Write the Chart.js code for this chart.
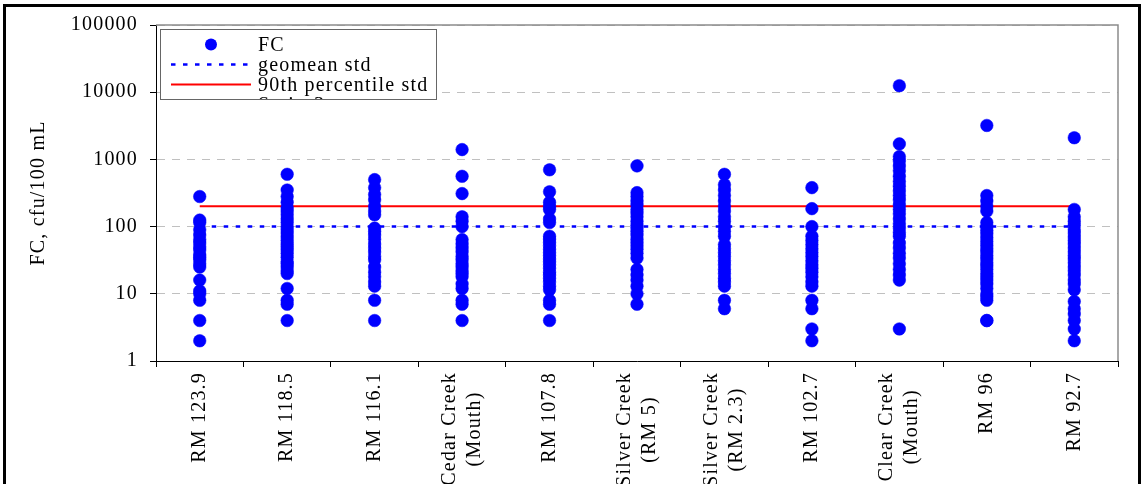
<!DOCTYPE html>
<html>
<head>
<meta charset="utf-8">
<script src="https://cdn.jsdelivr.net/npm/chart.js@4.4.1/dist/chart.umd.min.js"></script>
<style>
  html, body { margin: 0; padding: 0; overflow: hidden; background: #fff; }
  #frame { position: absolute; left: 3px; top: 4px; width: 1132px; height: 600px; border: 3px solid #000; border-bottom: none; }
  #wrap { position: absolute; left: 0; top: 0; width: 1143px; height: 560px; }
</style>
</head>
<body>
<div id="frame"></div>
<div id="wrap"><canvas id="fcChart"></canvas></div>
<script>
// sampling sites, upstream to downstream
const sites = [
  ['RM 123.9'], ['RM 118.5'], ['RM 116.1'], ['Cedar Creek', '(Mouth)'], ['RM 107.8'],
  ['Silver Creek', '(RM 5)'], ['Silver Creek', '(RM 2.3)'], ['RM 102.7'],
  ['Clear Creek', '(Mouth)'], ['RM 96'], ['RM 92.7']
];

// fecal coliform results, cfu/100 mL
const rm1239 = [280, 125, 115, 90, 75, 64, 57, 50, 45, 38, 35, 32, 28, 25, 16, 11, 10, 8, 4, 2];
const rm1185 = [600, 350, 280, 230, 190, 170, 150, 130, 115, 100, 90, 80, 70, 62, 55, 50, 45, 40, 35, 30, 28, 25, 22, 20, 12, 8, 7, 4];
const rm1161 = [500, 380, 300, 250, 200, 170, 150, 95, 85, 75, 65, 55, 48, 42, 36, 32, 25, 21, 18, 15, 13, 8, 4];
const cedarMouth = [1400, 560, 310, 140, 120, 100, 64, 55, 48, 42, 36, 32, 28, 25, 22, 20, 18, 14, 12, 8, 7, 4];
const rm1078 = [700, 330, 230, 200, 180, 130, 115, 72, 65, 58, 52, 46, 41, 37, 33, 30, 27, 24, 21, 19, 17, 15, 13, 11.5, 8, 7, 4];
const silverRm5 = [800, 320, 280, 240, 210, 180, 160, 140, 120, 105, 95, 85, 75, 65, 58, 52, 46, 40, 34, 23, 19, 16, 13, 10, 7];
const silverRm23 = [600, 420, 350, 290, 240, 200, 170, 140, 120, 100, 85, 72, 54, 47, 41, 36, 31, 27, 23, 20, 17, 15, 13, 8, 6];
const rm1027 = [380, 185, 100, 72, 62, 54, 47, 41, 36, 31, 27, 24, 21, 18, 15, 13, 8, 6, 3, 2];
const clearMouth = [12500, 1700, 1100, 950, 800, 680, 560, 470, 400, 340, 290, 250, 210, 180, 155, 130, 110, 95, 82, 72, 57, 48, 40, 34, 28, 23, 19, 16, 3];
const rm96 = [3200, 290, 240, 200, 170, 115, 100, 88, 78, 68, 60, 53, 47, 42, 37, 33, 29, 26, 23, 20, 18, 16, 14, 12, 10, 9, 8, 4, 4];
const rm927 = [2100, 180, 140, 120, 105, 90, 80, 70, 62, 55, 48, 42, 37, 33, 29, 25, 22, 19, 16, 14, 11.5, 7.7, 6, 5, 4, 3, 2];

const fcBySite = [rm1239, rm1185, rm1161, cedarMouth, rm1078, silverRm5, silverRm23, rm1027, clearMouth, rm96, rm927];

// standards
const geomeanStd = 100;
const percentile90Std = 200;

const yTicks = [1, 10, 100, 1000, 10000, 100000];

const serif = '"Liberation Serif", "Times New Roman", serif';

// Times-style text in the original is set a little wide
const wideText = {
  id: 'wideText',
  beforeUpdate(chart) { chart.ctx.letterSpacing = '1.2px'; },
  beforeDraw(chart) { chart.ctx.letterSpacing = '1.2px'; }
};

// gray top/right frame around the plot
const plotFrame = {
  id: 'plotFrame',
  beforeDatasetsDraw(chart) {
    const {ctx, chartArea: a} = chart;
    ctx.save();
    ctx.strokeStyle = '#8c8c8c';
    ctx.lineWidth = 1.5;
    ctx.beginPath();
    ctx.moveTo(a.left, a.top);
    ctx.lineTo(a.right, a.top);
    ctx.lineTo(a.right, a.bottom);
    ctx.stroke();
    ctx.restore();
  }
};

// rotated, centred multi-line site names under each category
const siteLabels = {
  id: 'siteLabels',
  afterDraw(chart) {
    const {ctx, scales: {x}} = chart;
    ctx.save();
    ctx.font = '20px ' + serif;
    ctx.fillStyle = '#000';
    ctx.textAlign = 'center';
    ctx.textBaseline = 'middle';
    const top = x.top + 11;
    chart.data.labels.forEach((lab, i) => {
      const lines = [].concat(lab);
      const w = Math.max(...lines.map(l => ctx.measureText(l).width));
      ctx.save();
      ctx.translate(x.getPixelForValue(i), top + w / 2);
      ctx.rotate(-Math.PI / 2);
      lines.forEach((l, j) => ctx.fillText(l, 0, (j - (lines.length - 1) / 2) * 25));
      ctx.restore();
    });
    ctx.restore();
  }
};

// boxed legend in the upper-left corner of the plot
const legendBox = {
  id: 'legendBox',
  afterDraw(chart, args, opts) {
    const {ctx, chartArea} = chart;
    const x = chartArea.left + opts.x, y = chartArea.top + opts.y;
    ctx.save();
    ctx.fillStyle = '#fff';
    ctx.fillRect(x, y, opts.width, opts.height);
    ctx.beginPath();
    ctx.rect(x, y, opts.width, opts.height);
    ctx.clip();
    ctx.font = '20px ' + serif;
    ctx.textBaseline = 'alphabetic';
    chart.data.datasets.forEach((ds, i) => {
      const base = y + 21.5 + i * 20;
      const my = base - 6;
      if (ds.showLine === false) {
        ctx.fillStyle = ds.pointBackgroundColor;
        ctx.beginPath();
        ctx.arc(x + 51, my, 6, 0, Math.PI * 2);
        ctx.fill();
      } else if (ds.data.length) {
        ctx.strokeStyle = ds.borderColor;
        ctx.lineWidth = ds.borderWidth;
        ctx.setLineDash(ds.borderDash || []);
        ctx.beginPath();
        ctx.moveTo(x + 11, my);
        ctx.lineTo(x + 91, my);
        ctx.stroke();
        ctx.setLineDash([]);
      }
      ctx.fillStyle = '#000';
      ctx.fillText(ds.label, x + 98, base);
    });
    ctx.restore();
    ctx.save();
    ctx.strokeStyle = '#666';
    ctx.lineWidth = 1;
    ctx.strokeRect(x + 0.5, y + 0.5, opts.width, opts.height);
    ctx.restore();
  }
};

// x is the site's own label array, so the category scale finds it by reference
const fcPoints = fcBySite.flatMap((vals, i) => vals.map(v => ({x: sites[i], y: v})));

new Chart(document.getElementById('fcChart'), {
  type: 'line',
  data: {
    labels: sites,
    datasets: [{
      label: 'FC',
      data: fcPoints,
      showLine: false,
      pointRadius: 6.3,
      pointBackgroundColor: '#0000ff',
      pointBorderColor: '#0000ff',
      pointBorderWidth: 0.5
    }, {
      label: 'geomean std',
      data: sites.map(() => geomeanStd),
      borderColor: '#0000ff',
      borderWidth: 2.5,
      borderDash: [4.5, 7.5],
      pointRadius: 0
    }, {
      label: '90th percentile std',
      data: sites.map(() => percentile90Std),
      borderColor: '#ff0000',
      borderWidth: 2,
      pointRadius: 0
    }, {
      label: 'Series3',
      data: []
    }]
  },
  options: {
    responsive: true,
    maintainAspectRatio: false,
    animation: false,
    events: [],
    layout: { padding: { top: 25, right: 25, left: 0, bottom: 0 } },
    scales: {
      x: {
        type: 'category',
        offset: true,
        grid: { offset: true, drawOnChartArea: false, tickLength: 6, color: '#000' },
        border: { color: '#000', width: 1 },
        ticks: { display: false },
        afterFit(scale) { scale.height = 199; }
      },
      y: {
        type: 'logarithmic',
        min: 1,
        max: 100000,
        afterBuildTicks(scale) { scale.ticks = yTicks.map(v => ({value: v})); },
        afterFit(scale) { scale.width = 156; },
        grid: { color: '#c0c0c0', tickColor: '#000', tickLength: 6 },
        border: { color: '#000', width: 1, dash: [8, 7] },
        ticks: {
          color: '#000',
          padding: 12,
          font: { family: serif, size: 20 },
          callback: v => String(v)
        },
        title: {
          display: true,
          text: 'FC, cfu/100 mL',
          color: '#000',
          font: { family: serif, size: 20 },
          padding: { top: 27, bottom: 0 }
        }
      }
    },
    plugins: {
      legend: { display: false },
      tooltip: { enabled: false },
      legendBox: { x: 4, y: 4, width: 276, height: 70 }
    }
  },
  plugins: [wideText, plotFrame, siteLabels, legendBox]
});
</script>
</body>
</html>
